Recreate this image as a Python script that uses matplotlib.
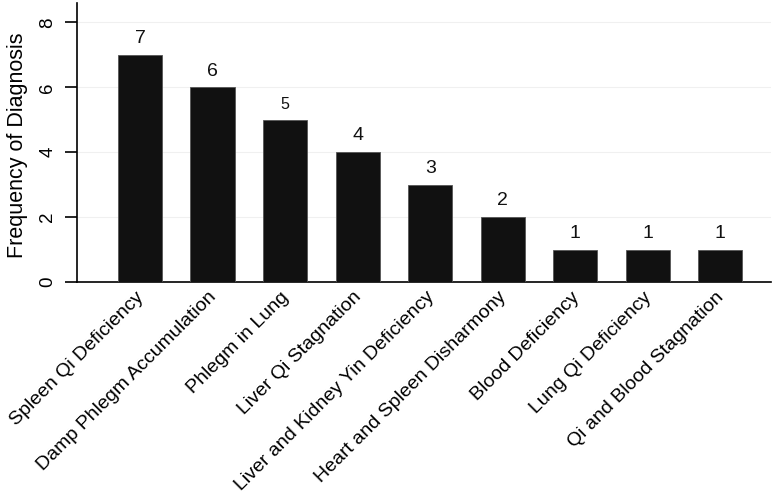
import matplotlib
matplotlib.use("Agg")
import matplotlib.pyplot as plt
import numpy as np

# Data
categories = [
    "Spleen Qi Deficiency",
    "Damp Phlegm Accumulation",
    "Phlegm in Lung",
    "Liver Qi Stagnation",
    "Liver and Kidney Yin Deficiency",
    "Heart and Spleen Disharmony",
    "Blood Deficiency",
    "Lung Qi Deficiency",
    "Qi and Blood Stagnation",
]
counts = [7, 6, 5, 4, 3, 2, 1, 1, 1]
y_ticks = [0, 2, 4, 6, 8]

plt.rcParams["font.family"] = ["Liberation Sans", "DejaVu Sans"]

fig = plt.figure(figsize=(7.73, 5.0), dpi=100)
ax = fig.add_axes([77 / 773, 1 - 282 / 500, (771 - 77) / 773, (282 - 3) / 500])

x = np.arange(len(categories))
ax.bar(x, counts, width=0.61, color="#111111", edgecolor="#555555",
       linewidth=0.6, zorder=3)

for xi, c in zip(x, counts):
    fs = 11.5 if c == 5 else 14
    ax.text(xi, c + 0.24, str(c), ha="center", va="bottom",
            fontsize=fs, color="#111111")

ax.set_xlim(-0.87, 8.70)
ax.set_ylim(0, 8.6)
ax.set_yticks(y_ticks)
ax.set_yticklabels([str(t) for t in y_ticks], rotation=90, va="center",
                   fontsize=13.5)
ax.set_xticks(x)
ax.set_xticklabels(categories, rotation=45, ha="right", va="center_baseline",
                   rotation_mode="anchor", fontsize=14)
ax.tick_params(axis="x", length=0, pad=8)
ax.tick_params(axis="y", length=9, width=1.2, pad=6)

ax.set_ylabel("Frequency of Diagnosis", fontsize=15.5)
ax.yaxis.set_label_coords(-0.071, 0.49)

ax.grid(axis="y", color="#f0f0f0", linewidth=0.8, zorder=0)
ax.spines["top"].set_visible(False)
ax.spines["right"].set_visible(False)
ax.spines["left"].set_linewidth(1.2)
ax.spines["bottom"].set_linewidth(1.2)

fig.savefig("out.png", dpi=100)
